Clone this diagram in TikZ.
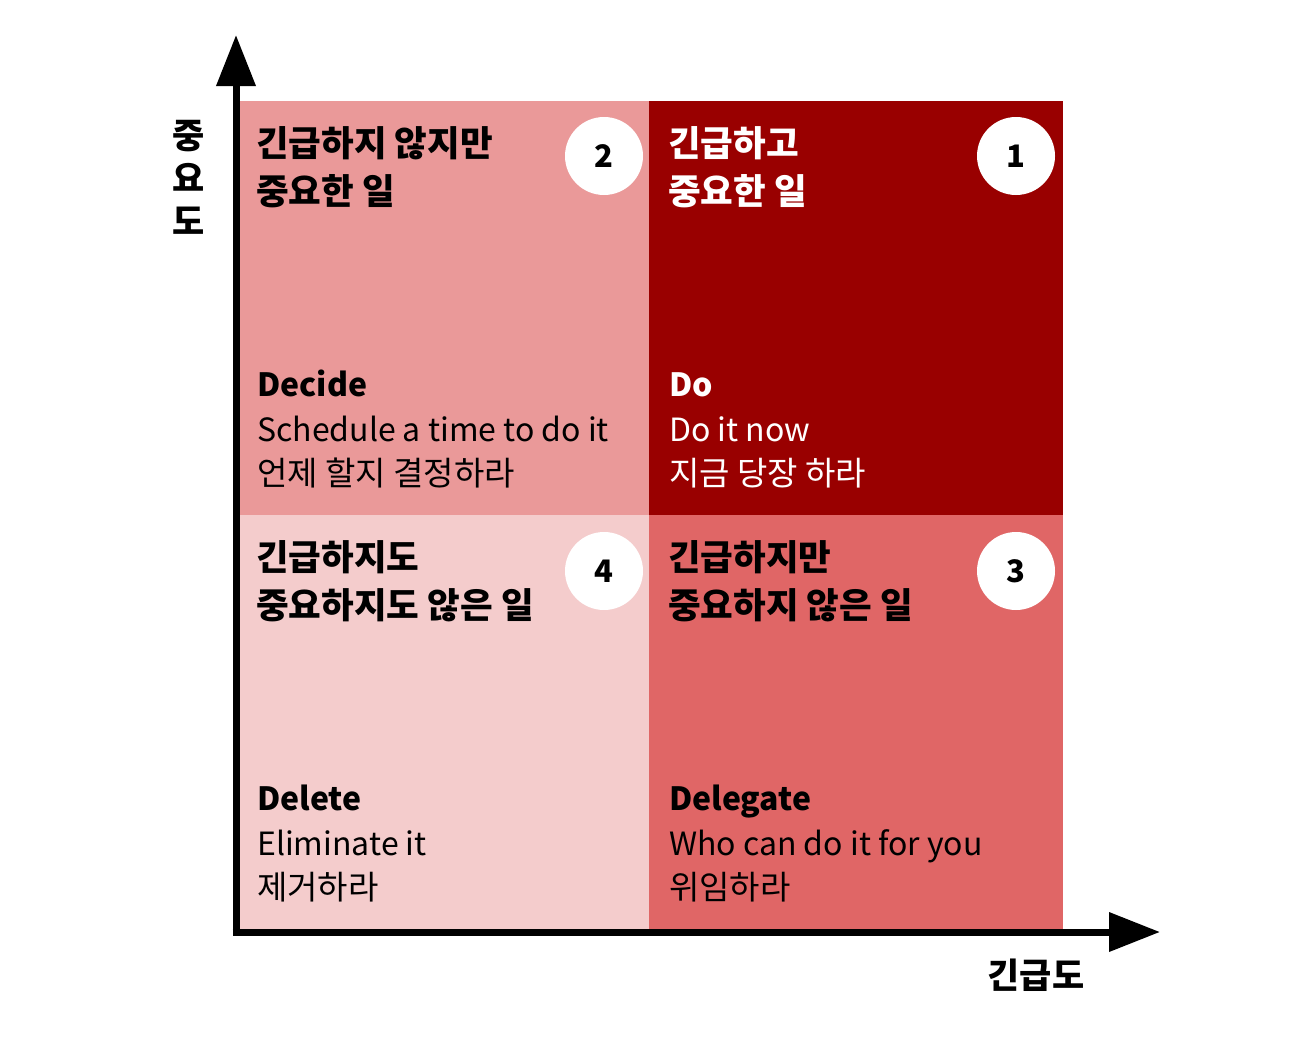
\documentclass[tikz,border=0pt]{standalone}
\usepackage{fontspec}
\setmainfont{Noto Sans CJK KR}
\usetikzlibrary{arrows.meta}
\definecolor{qtl}{HTML}{EA9999}
\definecolor{qtr}{HTML}{990000}
\definecolor{qbl}{HTML}{F4CCCC}
\definecolor{qbr}{HTML}{E06666}
\begin{document}
\begin{tikzpicture}[x=1pt,y=-1pt,
  ttl/.style={anchor=base west,inner sep=0pt,font=\fontsize{35.5}{40}\selectfont\bfseries},
  eng/.style={anchor=base west,inner sep=0pt,font=\fontsize{32}{40}\selectfont\bfseries},
  body/.style={anchor=base west,inner sep=0pt,font=\fontsize{32}{40}\selectfont},
  kbody/.style={anchor=base west,inner sep=0pt,font=\fontsize{33}{40}\selectfont},
  num/.style={circle,fill=white,minimum size=78pt,inner sep=0pt,font=\fontsize{31}{36}\selectfont\bfseries},
  axis/.style={line width=7pt,-{Triangle[length=51pt,width=38pt]}},
  axlbl/.style={inner sep=0pt,font=\fontsize{35}{43}\selectfont\bfseries,align=center}]
\useasboundingbox (0,0) rectangle (1311,1039);
% quadrants
\fill[qtl] (240,101) rectangle (649,515);
\fill[qtr] (649,101) rectangle (1063,515);
\fill[qbl] (240,515) rectangle (649,929);
\fill[qbr] (649,515) rectangle (1063,929);
% numbers
\node[num] (n2) at (604,156) {2};
\node[num] (n1) at (1016,156) {1};
\node[num] (n4) at (604,571) {4};
\node[num] (n3) at (1016,571) {3};
% top-left
\node[ttl] (tl1) at (256,156) {긴급하지 않지만};
\node[ttl] (tl2) at (256,204) {중요한 일};
\node[eng] (tl3) at (257,396) {Decide};
\node[body] (tl4) at (257,441) {Schedule a time to do it};
\node[kbody] (tl5) at (257,485) {언제 할지 결정하라};
% top-right
\node[ttl,text=white] (tr1) at (668,156) {긴급하고};
\node[ttl,text=white] (tr2) at (668,204) {중요한 일};
\node[eng,text=white] (tr3) at (669,396) {Do};
\node[body,text=white] (tr4) at (669,441) {Do it now};
\node[kbody,text=white] (tr5) at (669,485) {지금 당장 하라};
% bottom-left
\node[ttl] (bl1) at (256,570) {긴급하지도};
\node[ttl] (bl2) at (256,618) {중요하지도 않은 일};
\node[eng] (bl3) at (257,810) {Delete};
\node[body] (bl4) at (257,855) {Eliminate it};
\node[kbody] (bl5) at (257,899) {제거하라};
% bottom-right
\node[ttl] (br1) at (668,570) {긴급하지만};
\node[ttl] (br2) at (668,618) {중요하지 않은 일};
\node[eng] (br3) at (669,810) {Delegate};
\node[body] (br4) at (669,855) {Who can do it for you};
\node[kbody] (br5) at (669,899) {위임하라};
% axes
\coordinate (o) at (236,932);
\coordinate (ox) at (232.5,932);
\coordinate (ytip) at (236,35);
\coordinate (xtip) at (1160,932);
\draw[axis] (o) -- (ytip);
\draw[axis] (ox) -- (xtip);
\node[axlbl] (ylab) at (189,177) {중\\요\\도};
\node[axlbl] (xlab) at (1036,975) {긴급도};
\end{tikzpicture}
\end{document}
